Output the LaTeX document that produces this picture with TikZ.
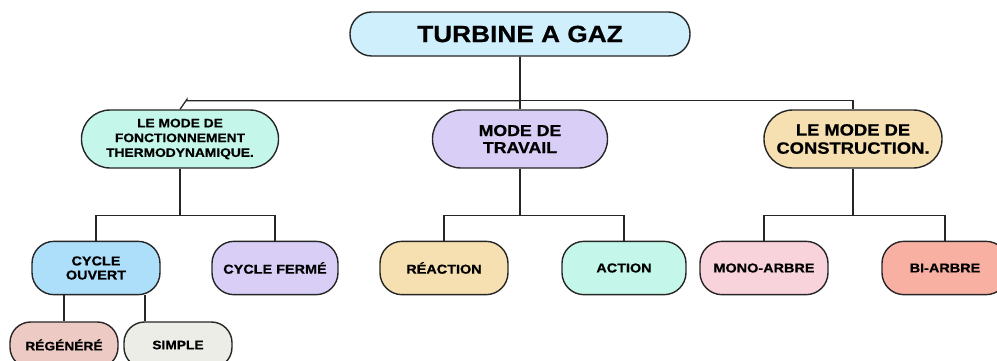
\documentclass[tikz,border=0pt]{standalone}
\usepackage{fontspec}
\setmainfont{Liberation Sans}[FakeStretch=1.12, BoldFeatures={FakeBold=0.6}]

\definecolor{croot}{HTML}{CFEFFD}
\definecolor{cmint}{HTML}{C4F7EA}
\definecolor{clav}{HTML}{D9CEF6}
\definecolor{ctan}{HTML}{F6E0B1}
\definecolor{cblue}{HTML}{ADDEFA}
\definecolor{cpink}{HTML}{F8D3DB}
\definecolor{csalmon}{HTML}{F8B0A3}
\definecolor{cregen}{HTML}{EDCAC4}
\definecolor{cgrey}{HTML}{EDEDE7}

\tikzset{%
  every box/.style={
    rectangle,
    draw=black!85,
    line width=1.2pt,
    align=center,
    inner sep=0pt,
    font=\bfseries
  },
  box root/.style={
    minimum width=10.2cm,
    minimum height=1.32cm,
    rounded corners=0.65cm,
    font=\bfseries\fontsize{20}{24}\selectfont
  },
  box mode/.style={
    minimum height=1.74cm,
    rounded corners=0.86cm
  },
  box leaf/.style={
    minimum height=1.6cm,
    rounded corners=0.66cm,
    font=\bfseries\fontsize{11}{12}\selectfont
  },
  box sub/.style={
    minimum width=3.24cm,
    minimum height=1.38cm,
    rounded corners=0.62cm,
    font=\bfseries\fontsize{10.5}{11.5}\selectfont
  },
  link/.style={
    draw=black!85,
    line width=1.1pt
  },
}

\begin{document}
\begin{tikzpicture}[x=0.03cm, y=-0.03cm]

\useasboundingbox (0,0) rectangle (997,360);

% racine
\node [every box/.try, box root/.try, fill=croot] (root) at (520,34) {TURBINE A GAZ};

% premier niveau
\node [every box/.try, box mode/.try, fill=cmint, minimum width=5.91cm,
  font=\bfseries\fontsize{10.5}{12.6}\selectfont] (thermo) at (180,139)
  {LE MODE DE\\FONCTIONNEMENT\\THERMODYNAMIQUE.};
\node [every box/.try, box mode/.try, fill=clav, minimum width=5.25cm,
  font=\bfseries\fontsize{13.5}{14.5}\selectfont] (travail) at (520,139)
  {MODE DE\\TRAVAIL};
\node [every box/.try, box mode/.try, fill=ctan, minimum width=5.34cm,
  font=\bfseries\fontsize{14}{15.5}\selectfont] (constr) at (853,139)
  {LE MODE DE\\CONSTRUCTION.};

% second niveau
\foreach \n/\t/\x/\w/\c in {ouvert/{CYCLE\\OUVERT}/96/3.84/cblue,
    ferme/CYCLE FERMÉ/275/3.78/clav,
    reaction/RÉACTION/444/3.84/ctan,
    action/ACTION/624/3.72/cmint,
    mono/MONO-ARBRE/764/3.84/cpink,
    bi/BI-ARBRE/945/3.78/csalmon}
  \node [every box/.try, box leaf/.try, fill=\c, minimum width=\w cm] (\n) at (\x,268) {\t};

% cycle ouvert
\node [every box/.try, box sub/.try, fill=cregen] (regen) at (64,345) {RÉGÉNÉRÉ};
\node [every box/.try, box sub/.try, fill=cgrey] (simple) at (178,345) {SIMPLE};

% liaisons
\draw [link] (root.south) -- (travail.north);
\draw [link] (root.south) -- ++(0,44) -| ([xshift=0.21cm, yshift=0.3cm]thermo.north) -- (thermo.north);
\draw [link] (root.south) -- ++(0,44) -| (constr.north);

\foreach \p/\c in {thermo/ouvert, thermo/ferme, travail/reaction,
    travail/action, constr/mono, constr/bi}
  \draw [link] (\p.south) -- ++(0,47) -| (\c.north);

\draw [link] (ouvert.south -| regen.north) -- (regen.north);
\draw [link] ([xshift=-0.99cm]simple.north |- ouvert.south) -- ([xshift=-0.99cm]simple.north);

\end{tikzpicture}
\end{document}
